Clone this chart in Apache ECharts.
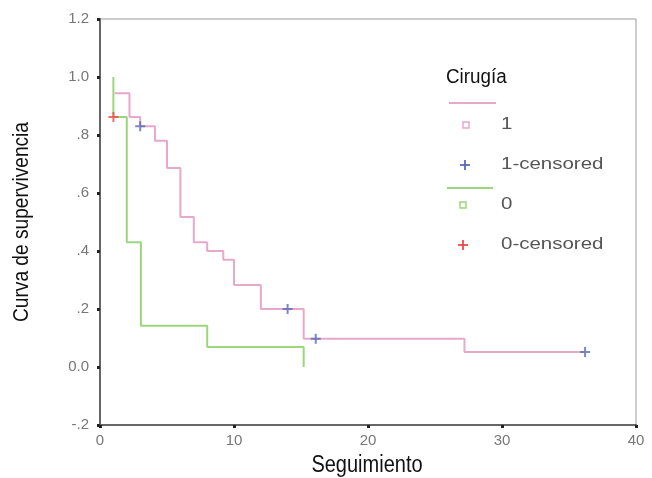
<!DOCTYPE html>
<html><head><meta charset="utf-8">
<script src="https://cdn.jsdelivr.net/npm/echarts@6/dist/echarts.min.js"></script>
<style>html,body{margin:0;padding:0;background:#fff}#c{width:652px;height:478px}</style>
</head><body><div id="c"></div>
<script>
// Kaplan-Meier curves: [time, survival after step]
const group1Curve = [[1.1,0.944],[2.2,0.862],[3,0.83],[4.1,0.78],[5,0.686],[6,0.517],[7,0.43],[8,0.40],[9.2,0.37],[10,0.283],[12,0.2],[15.2,0.097],[27.2,0.052],[36.2,0.052]];
const group1Censored = [[3,0.83],[14,0.2],[16.1,0.097],[36.2,0.052]];
const group0Curve = [[1,1.0],[1,0.862],[2,0.43],[3.05,0.142],[8,0.069],[15.2,0.069],[15.2,0]];
const group0Censored = [[1,0.862]];
const xTicks = [0,10,20,30,40];
const yTickLabels = {'1.2':'1.2','1':'1.0','0.8':'.8','0.6':'.6','0.4':'.4','0.2':'.2','0':'0.0','-0.2':'-.2'};
const xTitle = 'Seguimiento';
const yTitle = 'Curva de supervivencia';
const legendTitle = 'Cirugía';
const legendNames = ['1','1-censored','0','0-censored'];

const PINK='#e8a8ca', BLUE='#5a6ab8', GREEN='#9cd67c', RED='#ee4848';
const PLUS='path://M4,0H6V4H10V6H6V10H4V6H0V4H4Z';
const sfont='"Liberation Sans",Arial,sans-serif';

function plus(cx,cy,color){
  return [
    {type:'line',shape:{x1:cx-5,y1:cy,x2:cx+5,y2:cy},style:{stroke:color,lineWidth:1.8}},
    {type:'line',shape:{x1:cx,y1:cy-5,x2:cx,y2:cy+5},style:{stroke:color,lineWidth:1.8}}
  ];
}
function label(txt,y){
  return {type:'text',x:501,y:y,scaleX:1.28,style:{text:txt,fill:'#555',fontSize:16,fontFamily:sfont,verticalAlign:'middle'}};
}

const chart = echarts.init(document.getElementById('c'), null, {renderer:'canvas'});
chart.setOption({
  animation:false,
  grid:{left:100,right:16,top:19,bottom:53,show:true,borderColor:'#999',borderWidth:1},
  xAxis:{type:'value',min:xTicks[0],max:xTicks[xTicks.length-1],interval:10,
    axisLine:{show:true,onZero:false,lineStyle:{color:'#666',width:2}},
    axisTick:{show:true,length:3,lineStyle:{color:'#222',width:3}},
    axisLabel:{color:'#777',fontSize:15,margin:8,fontFamily:sfont},
    splitLine:{show:false}},
  yAxis:{type:'value',min:-0.2,max:1.2,interval:0.2,
    axisLine:{show:true,onZero:false,lineStyle:{color:'#666',width:2}},
    axisTick:{show:true,length:3,lineStyle:{color:'#222',width:3}},
    axisLabel:{color:'#777',fontSize:15,margin:11,fontFamily:sfont,
      formatter:v=>{const k=String(Math.round(v*10)/10);return yTickLabels[k]!==undefined?yTickLabels[k]:k;}},
    splitLine:{show:false}},
  series:[
    {name:legendNames[0],type:'line',step:'end',data:group1Curve,showSymbol:false,lineStyle:{color:PINK,width:2},z:2},
    {name:legendNames[2],type:'line',step:'end',data:group0Curve,showSymbol:false,lineStyle:{color:GREEN,width:2},z:3},
    {name:legendNames[1],type:'scatter',data:group1Censored,symbol:PLUS,symbolSize:10,itemStyle:{color:BLUE},z:5},
    {name:legendNames[3],type:'scatter',data:group0Censored,symbol:PLUS,symbolSize:10,itemStyle:{color:RED},z:5}
  ],
  graphic:[
    {type:'text',x:367,y:466,scaleX:0.87,style:{text:xTitle,fill:'#111',fontSize:23,fontFamily:sfont,textAlign:'center',verticalAlign:'middle'}},
    {type:'text',x:22,y:222,rotation:Math.PI/2,scaleX:0.87,style:{text:yTitle,fill:'#111',fontSize:22,fontFamily:sfont,textAlign:'center',verticalAlign:'middle'}},
    {type:'text',x:446,y:77,scaleX:0.94,style:{text:legendTitle,fill:'#111',fontSize:20,fontFamily:sfont,verticalAlign:'middle'}},
    {type:'line',shape:{x1:449,y1:103,x2:496,y2:103},style:{stroke:PINK,lineWidth:2}},
    {type:'rect',shape:{x:463,y:122,width:6,height:6},style:{fill:'none',stroke:PINK,lineWidth:1.5}},
    label(legendNames[0],125),
    ...plus(465,165,BLUE),
    label(legendNames[1],165),
    {type:'line',shape:{x1:447,y1:188,x2:493,y2:188},style:{stroke:GREEN,lineWidth:2}},
    {type:'rect',shape:{x:460,y:202,width:6,height:6},style:{fill:'none',stroke:GREEN,lineWidth:1.5}},
    label(legendNames[2],205),
    ...plus(463,245,RED),
    label(legendNames[3],245)
  ]
});
</script></body></html>
